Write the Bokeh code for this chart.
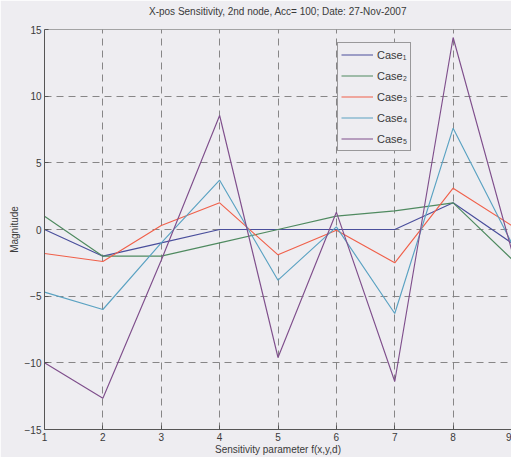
from bokeh.plotting import figure
from bokeh.models import ColumnDataSource, FixedTicker, Legend, LegendItem, Range1d, Span, Title
from bokeh.embed import file_html
from bokeh.resources import INLINE

# ---- data ----
x_params = [1, 2, 3, 4, 5, 6, 7, 8, 9]
case1 = [0.0, -2.0, -1.0, 0.0, 0.0, 0.0, 0.0, 2.0, -1.0]
case2 = [1.0, -2.0, -2.0, -1.0, 0.0, 1.0, 1.4, 2.0, -2.2]
case3 = [-1.8, -2.4, 0.3, 2.0, -1.9, -0.05, -2.5, 3.1, 0.3]
case4 = [-4.7, -6.0, -1.0, 3.7, -3.8, 0.2, -6.3, 7.6, -1.0]
case5 = [-10.0, -12.65, -2.3, 8.55, -9.6, 1.3, -11.4, 14.4, -1.5]
series_labels = ["Case\u2081", "Case\u2082", "Case\u2083", "Case\u2084", "Case\u2085"]
x_ticks = [1, 2, 3, 4, 5, 6, 7, 8, 9]
y_ticks = [-15, -10, -5, 0, 5, 10, 15]

colors = ["#4a4f9c", "#4f8a60", "#f0604a", "#5aa2c2", "#7f4f8c"]
bg = "#eeedf1"
ink = "#3a3a3a"
font = "Liberation Sans"

p = figure(width=511, height=457, output_backend="svg", toolbar_location=None,
           x_range=Range1d(1, 9), y_range=Range1d(-15, 15),
           min_border_left=44, min_border_right=0, min_border_top=29, min_border_bottom=28)
p.background_fill_color = bg
p.border_fill_color = bg
p.outline_line_color = None

p.title.text = "X-pos Sensitivity, 2nd node, Acc= 100; Date: 27-Nov-2007"
p.title.align = "center"
p.title.text_font = font
p.title.text_font_size = "10px"
p.title.text_font_style = "normal"
p.title.text_color = ink
p.title.standoff = 0
# thin spacer between the title and the box, lifting the title a little
p.add_layout(Title(text=" ", text_font_size="1px", standoff=10), "above")

src = ColumnDataSource(dict(x=x_params, c1=case1, c2=case2, c3=case3, c4=case4, c5=case5))
items = []
for key, col, lab in zip(["c1", "c2", "c3", "c4", "c5"], colors, series_labels):
    r = p.line("x", key, source=src, line_color=col, line_width=1.15)
    items.append(LegendItem(label=lab, renderers=[r]))

# top border of the box (right border lies just outside the picture)
p.add_layout(Span(location=15, dimension="width", line_color="#555555", line_width=1))

legend = Legend(items=items, location=(293, 278))
legend.label_text_font = font
legend.label_text_font_size = "11px"
legend.label_text_color = ink
legend.glyph_width = 32
legend.glyph_height = 17
legend.label_height = 17
legend.label_standoff = 4
legend.spacing = 4
legend.padding = 3
legend.margin = 0
legend.border_line_color = "#444444"
legend.border_line_width = 1
legend.background_fill_color = bg
legend.background_fill_alpha = 1
p.add_layout(legend, "center")

for ax in (p.xaxis[0], p.yaxis[0]):
    ax.axis_line_color = "#555555"
    ax.major_tick_line_color = "#555555"
    ax.major_tick_in = 4
    ax.major_tick_out = 0
    ax.minor_tick_line_color = None
    ax.major_label_text_font = font
    ax.major_label_text_font_size = "10px"
    ax.major_label_text_color = ink
    ax.axis_label_text_font = font
    ax.axis_label_text_font_size = "10px"
    ax.axis_label_text_font_style = "normal"
    ax.axis_label_text_color = ink
    ax.major_label_standoff = 3
    ax.axis_label_standoff = 2

p.xaxis.ticker = FixedTicker(ticks=x_ticks)
p.yaxis.ticker = FixedTicker(ticks=y_ticks)
p.xaxis.axis_label = "Sensitivity parameter f(x,y,d)"
p.yaxis.axis_label = "Magnitude"
p.xaxis.axis_label_standoff = 0

p.grid.grid_line_color = "#7a7a7a"
p.grid.grid_line_dash = "7 5"
p.grid.grid_line_width = 0.9

open("out.html", "w").write(file_html(p, INLINE))
